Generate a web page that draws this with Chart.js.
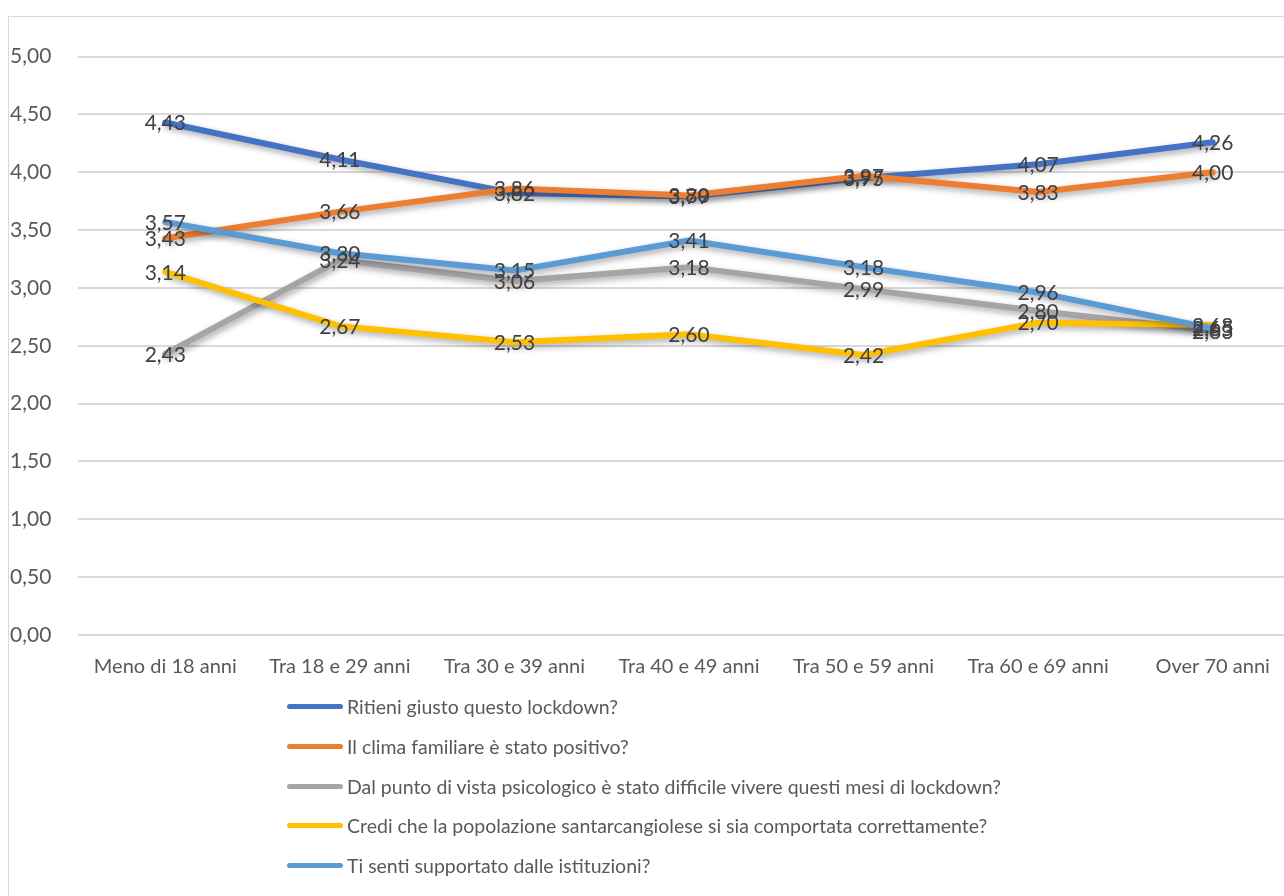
<!DOCTYPE html>
<html>
<head>
<meta charset="utf-8">
<script src="https://cdn.jsdelivr.net/npm/chart.js@4"></script>
<style>
  html, body { margin: 0; padding: 0; background: #fff; overflow: hidden; }
  #cornice { position: absolute; left: 8px; top: 16px; width: 1300px; height: 900px; border: 1px solid #d9d9d9; box-sizing: border-box; }
  #wrap { position: absolute; left: 0; top: 24px; width: 1300px; height: 667px; }
  #legenda { position: absolute; left: 287px; top: 687px; font-family: Lato, "Open Sans", sans-serif; font-size: 19.5px; color: #595959; }
  .voce { height: 39.7px; display: flex; align-items: center; }
  .voce i { display: inline-block; width: 56px; height: 5px; border-radius: 3px; margin-right: 4px; }
</style>
</head>
<body>
<div id="cornice"></div>
<div id="wrap"><canvas id="grafico" width="1300" height="667"></canvas></div>
<div id="legenda"></div>
<script>
(function(){

// categorie (fasce d'eta)
const fasce = ["Meno di 18 anni", "Tra 18 e 29 anni", "Tra 30 e 39 anni", "Tra 40 e 49 anni", "Tra 50 e 59 anni", "Tra 60 e 69 anni", "Over 70 anni"];

// domande
const domande = [
    "Ritieni giusto questo lockdown?",
    "Il clima familiare è stato positivo?",
    "Dal punto di vista psicologico è stato difficile vivere questi mesi di lockdown?",
    "Credi che la popolazione santarcangiolese si sia comportata correttamente?",
    "Ti senti supportato dalle istituzioni?"
];

// valori medi per domanda
const giusto      = [4.43, 4.11, 3.82, 3.79, 3.95, 4.07, 4.26];
const clima       = [3.43, 3.66, 3.86, 3.80, 3.97, 3.83, 4.00];
const psicologico = [2.43, 3.24, 3.06, 3.18, 2.99, 2.80, 2.63];
const comportata  = [3.14, 2.67, 2.53, 2.60, 2.42, 2.70, 2.68];
const supportato  = [3.57, 3.30, 3.15, 3.41, 3.18, 2.96, 2.65];

const tickY = [0, 0.5, 1, 1.5, 2, 2.5, 3, 3.5, 4, 4.5, 5];

const colori = ["#4472C4", "#ED7D31", "#A5A5A5", "#FFC000", "#5B9BD5"];
const serie = [giusto, clima, psicologico, comportata, supportato];

const virgola = v => v.toFixed(2).replace(".", ",");

//----legenda in html
const $legenda = document.querySelector("#legenda");
domande.forEach((d, i) => {
    $legenda.innerHTML += `<div class="voce"><i style="background:${colori[i]}"></i>${d}</div>`;
});

//----ombra sotto le linee, come in Excel
const ombra = {
    id: "ombra",
    beforeDatasetsDraw(chart) {
        const ctx = chart.ctx;
        ctx.save();
        ctx.shadowColor = "rgba(0,0,0,0.35)";
        ctx.shadowBlur = 6;
        ctx.shadowOffsetX = 2;
        ctx.shadowOffsetY = 3;
    },
    afterDatasetsDraw(chart) {
        chart.ctx.restore();
    }
};

//----etichette dei valori centrate sul punto
const etichette = {
    id: "etichette",
    afterDatasetsDraw(chart) {
        const ctx = chart.ctx;
        ctx.save();
        ctx.font = "21px Lato, 'Open Sans', sans-serif";
        ctx.fillStyle = "#404040";
        ctx.textAlign = "center";
        ctx.textBaseline = "middle";
        chart.data.datasets.forEach((ds, i) => {
            chart.getDatasetMeta(i).data.forEach((p, j) => {
                ctx.fillText(virgola(ds.data[j]), p.x, p.y + 1);
            });
        });
        ctx.restore();
    }
};

const ctx = document.querySelector("#grafico");

let myChart = new Chart(ctx, {
    type: "line",
    data: {
        labels: fasce,
        datasets: serie.map((s, i) => ({
            label: domande[i],
            data: s,
            borderColor: colori[i],
            backgroundColor: colori[i],
            borderWidth: 6,
            pointRadius: 0,
            tension: 0,
            borderCapStyle: "round",
            borderJoinStyle: "round",
            order: 4 - i
        }))
    },
    options: {
        responsive: false,
        animation: false,
        layout: { padding: { left: 10, top: 24, right: 0, bottom: 0 } },
        plugins: {
            legend: { display: false },
            tooltip: { enabled: false }
        },
        scales: {
            x: {
                offset: true,
                grid: { display: false, drawTicks: false },
                border: { display: true, color: "#d9d9d9", width: 1 },
                ticks: {
                    color: "#595959",
                    font: { family: "Lato, 'Open Sans', sans-serif", size: 20 },
                    padding: 20,
                    maxRotation: 0,
                    autoSkip: false
                },
                afterFit(scale) { scale.height = 56; }
            },
            y: {
                min: 0,
                max: 5,
                afterBuildTicks(scale) { scale.ticks = tickY.map(v => ({ value: v })); },
                grid: { color: "#d9d9d9", lineWidth: 2, drawTicks: false },
                border: { display: false },
                ticks: {
                    color: "#595959",
                    font: { family: "Lato, 'Open Sans', sans-serif", size: 21 },
                    crossAlign: "far",
                    padding: 20,
                    callback: v => virgola(v)
                },
                afterFit(scale) { scale.width = 68; }
            }
        }
    },
    plugins: [ombra, etichette]
});

})();
</script>
</body>
</html>
